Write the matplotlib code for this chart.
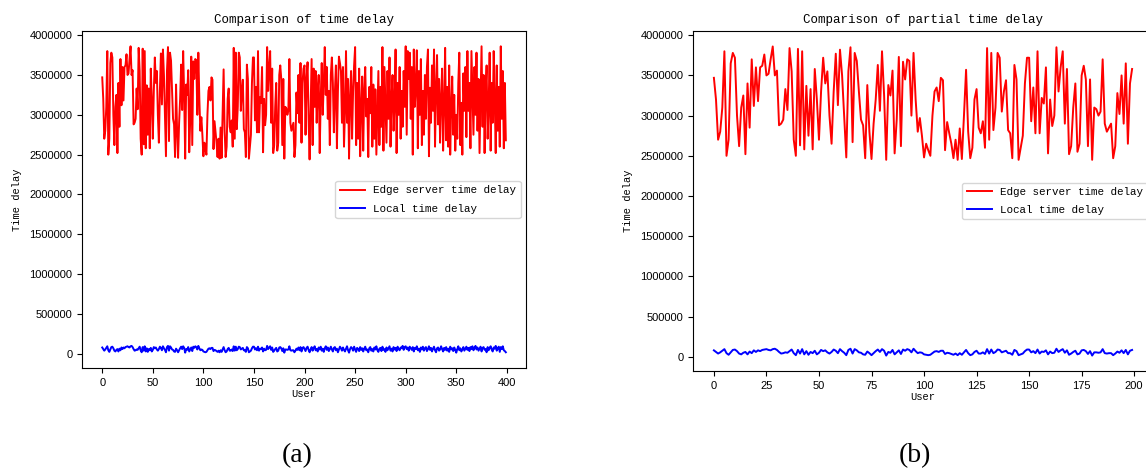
#!/usr/bin/env python3
"""Edge server vs local time delay, all users (a) and first 200 users (b)."""

import matplotlib
matplotlib.use("Agg")
import matplotlib.pyplot as plt
from matplotlib.ticker import MultipleLocator


# time delay per user (400 users)
EDGE_DELAY = [
    3470000, 3200000, 2700000, 2800000, 3100000, 3800000, 2500000, 2700000, 3650000, 3780000,
    3720000, 3000000, 2620000, 3100000, 3250000, 2520000, 3400000, 2850000, 3700000, 3120000,
    3600000, 3180000, 3600000, 3620000, 3760000, 3500000, 3520000, 3700000, 3860000, 3500000,
    3560000, 2880000, 2900000, 2950000, 3330000, 3070000, 3840000, 3550000, 2700000, 2500000,
    3830000, 2630000, 3800000, 2580000, 3370000, 2750000, 3330000, 2580000, 3580000, 3200000,
    2700000, 3300000, 3720000, 3400000, 3550000, 3000000, 2650000, 3300000, 3770000, 3130000,
    3820000, 3500000, 3000000, 2480000, 3550000, 3850000, 2670000, 3780000, 3680000, 3300000,
    2950000, 2880000, 2470000, 3380000, 2800000, 2460000, 2900000, 3200000, 3630000, 3060000,
    3800000, 3250000, 2450000, 3380000, 3250000, 3560000, 2530000, 2950000, 3730000, 2620000,
    3670000, 3450000, 3700000, 3680000, 3000000, 3780000, 3200000, 2800000, 2970000, 2750000,
    2480000, 2650000, 2570000, 2500000, 3000000, 3300000, 3350000, 3180000, 3470000, 3440000,
    2570000, 2920000, 2780000, 2650000, 2470000, 2700000, 2450000, 2840000, 2460000, 3000000,
    3570000, 2800000, 2470000, 2600000, 3200000, 3330000, 2850000, 2780000, 2930000, 2600000,
    3840000, 2700000, 3780000, 2820000, 3100000, 3780000, 3720000, 3050000, 3300000, 3440000,
    2820000, 2780000, 2470000, 3630000, 3450000, 2450000, 2600000, 2750000, 3400000, 3720000,
    3720000, 2930000, 3350000, 2780000, 3800000, 2780000, 3220000, 3150000, 3600000, 2530000,
    3200000, 2870000, 3000000, 3850000, 3300000, 3600000, 3800000, 2900000, 3580000, 2520000,
    2620000, 3100000, 3400000, 2550000, 2650000, 3500000, 3620000, 3450000, 2620000, 3450000,
    2450000, 3100000, 3080000, 3000000, 3050000, 3700000, 2900000, 2800000, 2850000, 2900000,
    2470000, 2620000, 3280000, 3020000, 3500000, 2900000, 3650000, 2650000, 3400000, 3580000,
    3620000, 2750000, 3450000, 3660000, 2950000, 2440000, 3100000, 3700000, 2620000, 3580000,
    3100000, 3550000, 2900000, 3300000, 3500000, 2520000, 3200000, 3650000, 3000000, 3400000,
    3850000, 3250000, 3600000, 2950000, 3300000, 2620000, 3500000, 3720000, 3400000, 2780000,
    3280000, 3620000, 2580000, 3300000, 3730000, 3650000, 3550000, 2900000, 3600000, 2600000,
    3050000, 3800000, 2900000, 3450000, 2450000, 3200000, 3550000, 2700000, 3300000, 3620000,
    3850000, 2620000, 3400000, 2700000, 3580000, 2480000, 3100000, 3480000, 2550000, 3300000,
    3600000, 2980000, 3200000, 2470000, 3350000, 3020000, 3600000, 2600000, 3380000, 2700000,
    3320000, 2500000, 3000000, 3550000, 2620000, 3350000, 2850000, 3850000, 2550000, 3600000,
    3100000, 2650000, 3550000, 2950000, 3720000, 2600000, 3200000, 3500000, 2800000, 3150000,
    3820000, 2520000, 3400000, 3000000, 3600000, 2700000, 3300000, 2850000, 3550000, 3100000,
    3860000, 2750000, 3800000, 3450000, 3780000, 2950000, 3600000, 2500000, 3820000, 3100000,
    3350000, 3810000, 2580000, 3550000, 3000000, 3700000, 2620000, 3300000, 2750000, 3500000,
    2950000, 3600000, 3820000, 2480000, 3340000, 2900000, 3620000, 3050000, 3820000, 2600000,
    3300000, 3750000, 2880000, 3450000, 2650000, 3200000, 3580000, 2550000, 3100000, 3840000,
    2680000, 3350000, 2600000, 3620000, 2500000, 3100000, 3480000, 2750000, 3250000, 2550000,
    3000000, 2700000, 3400000, 3780000, 2620000, 3150000, 2500000, 3520000, 3050000, 3600000,
    2720000, 3800000, 3050000, 3400000, 2580000, 3800000, 3250000, 2750000, 3600000, 3000000,
    3780000, 2800000, 3450000, 2520000, 3200000, 3860000, 2850000, 3500000, 2520000, 3300000,
    3620000, 2700000, 3100000, 3780000, 2550000, 3400000, 2900000, 3800000, 3200000, 2520000,
    3620000, 2800000, 3350000, 2600000, 3860000, 2950000, 3550000, 2580000, 3400000, 2680000,
]

LOCAL_DELAY = [
    80000, 60000, 40000, 55000, 75000, 95000, 45000, 25000, 55000, 85000,
    90000, 70000, 40000, 30000, 50000, 60000, 30000, 65000, 45000, 80000,
    60000, 80000, 70000, 85000, 90000, 95000, 85000, 80000, 95000, 100000,
    85000, 60000, 40000, 45000, 55000, 50000, 70000, 90000, 45000, 20000,
    85000, 40000, 95000, 30000, 70000, 25000, 60000, 45000, 75000, 30000,
    50000, 85000, 70000, 80000, 55000, 40000, 60000, 90000, 75000, 45000,
    95000, 70000, 50000, 20000, 85000, 100000, 40000, 95000, 80000, 55000,
    50000, 30000, 25000, 65000, 45000, 20000, 45000, 70000, 90000, 60000,
    95000, 75000, 15000, 60000, 50000, 85000, 30000, 55000, 80000, 35000,
    90000, 75000, 95000, 85000, 55000, 100000, 70000, 45000, 55000, 50000,
    30000, 25000, 20000, 25000, 45000, 65000, 70000, 60000, 75000, 75000,
    35000, 50000, 45000, 35000, 25000, 40000, 20000, 45000, 25000, 55000,
    85000, 45000, 20000, 30000, 60000, 75000, 40000, 40000, 55000, 35000,
    95000, 40000, 90000, 45000, 60000, 90000, 85000, 55000, 65000, 75000,
    45000, 45000, 25000, 85000, 70000, 20000, 30000, 40000, 70000, 90000,
    90000, 55000, 70000, 45000, 90000, 40000, 65000, 60000, 80000, 30000,
    65000, 45000, 50000, 100000, 60000, 80000, 95000, 50000, 80000, 25000,
    40000, 60000, 75000, 30000, 40000, 80000, 85000, 70000, 35000, 70000,
    15000, 55000, 55000, 50000, 55000, 95000, 45000, 40000, 45000, 45000,
    20000, 40000, 65000, 50000, 80000, 45000, 85000, 30000, 75000, 85000,
    60000, 35000, 75000, 90000, 50000, 20000, 55000, 85000, 40000, 70000,
    95000, 45000, 60000, 30000, 80000, 55000, 90000, 40000, 65000, 25000,
    70000, 95000, 50000, 80000, 35000, 60000, 90000, 55000, 30000, 75000,
    85000, 45000, 65000, 20000, 55000, 90000, 70000, 40000, 80000, 50000,
    30000, 65000, 95000, 45000, 15000, 60000, 85000, 70000, 40000, 90000,
    55000, 25000, 75000, 60000, 35000, 85000, 50000, 70000, 30000, 65000,
    90000, 45000, 55000, 20000, 70000, 85000, 40000, 60000, 30000, 80000,
    55000, 95000, 45000, 25000, 65000, 75000, 35000, 90000, 50000, 60000,
    25000, 80000, 45000, 70000, 95000, 40000, 65000, 30000, 85000, 55000,
    75000, 35000, 90000, 60000, 45000, 80000, 70000, 100000, 50000, 85000,
    95000, 60000, 80000, 40000, 90000, 70000, 50000, 85000, 30000, 75000,
    60000, 95000, 45000, 65000, 25000, 80000, 55000, 90000, 40000, 70000,
    85000, 35000, 60000, 95000, 50000, 75000, 30000, 65000, 90000, 45000,
    20000, 70000, 80000, 40000, 55000, 95000, 60000, 30000, 75000, 50000,
    85000, 40000, 65000, 25000, 90000, 55000, 70000, 35000, 80000, 50000,
    15000, 60000, 95000, 45000, 70000, 30000, 55000, 85000, 40000, 65000,
    90000, 50000, 75000, 35000, 85000, 60000, 95000, 45000, 70000, 100000,
    55000, 80000, 40000, 65000, 90000, 30000, 75000, 85000, 50000, 60000,
    20000, 85000, 45000, 75000, 95000, 55000, 30000, 80000, 65000, 100000,
    40000, 70000, 90000, 25000, 85000, 60000, 95000, 45000, 35000, 20000,
]

PARTIAL_USERS = 200
Y_TICKS = [0, 500000, 1000000, 1500000, 2000000, 2500000, 3000000, 3500000, 4000000]

plt.rcParams["font.size"] = 7.5
TEXT_FONT = "Liberation Mono"
TICK_FONT = "Liberation Sans"


def draw_panel(ax, edge, local, title, x_step):
    users = list(range(len(edge)))
    ax.plot(users, edge, color="red", linewidth=1.4, label="Edge server time delay")
    ax.plot(users, local, color="blue", linewidth=1.4, label="Local time delay")
    ax.set_title(title, family=TEXT_FONT, fontsize=9)
    ax.set_xlabel("User", family=TEXT_FONT, labelpad=1)
    ax.set_ylabel("Time delay", family=TEXT_FONT, labelpad=5)
    ax.set_yticks(Y_TICKS)
    ax.xaxis.set_major_locator(MultipleLocator(x_step))
    ax.ticklabel_format(axis="y", style="plain", useOffset=False)
    for lab in ax.get_xticklabels() + ax.get_yticklabels():
        lab.set_family(TICK_FONT)
        lab.set_fontsize(8)
    ax.legend(loc="center right", prop={"family": TEXT_FONT, "size": 7.8},
              labelspacing=0.75, handlelength=2.3)


fig = plt.figure(figsize=(11.46, 4.75), dpi=100)
ax_a = fig.add_axes([0.0716, 0.2253, 0.3874, 0.7095])
ax_b = fig.add_axes([0.6047, 0.2189, 0.4014, 0.7158])

draw_panel(ax_a, EDGE_DELAY, LOCAL_DELAY, "Comparison of time delay", 50)
draw_panel(ax_b, EDGE_DELAY[:PARTIAL_USERS], LOCAL_DELAY[:PARTIAL_USERS],
           "Comparison of partial time delay", 25)

fig.text(0.259, 0.04, "(a)", family="Liberation Serif", fontsize=20, ha="center", va="center")
fig.text(0.798, 0.04, "(b)", family="Liberation Serif", fontsize=20, ha="center", va="center")

fig.savefig("out.png", dpi=100)
